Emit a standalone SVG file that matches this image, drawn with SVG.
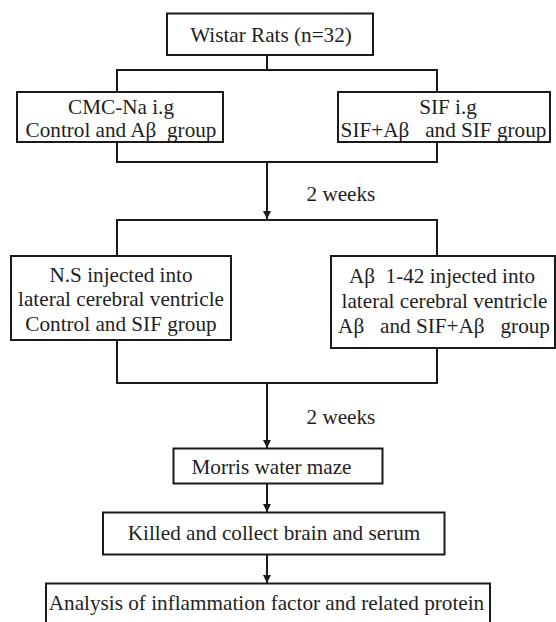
<svg xmlns="http://www.w3.org/2000/svg" width="556" height="622" viewBox="0 0 556 622">
<style>
.box{fill:#fff;stroke:#1a1a1a;stroke-width:2}
.t{font-family:'Liberation Serif','Times New Roman',serif;font-size:21.2px;fill:#1e1e1e;text-anchor:middle}
.s{text-anchor:start}
.c{fill:none;stroke:#1a1a1a;stroke-width:2}
</style>
<defs>
<marker id="ah" markerUnits="userSpaceOnUse" markerWidth="8" markerHeight="9" refX="8" refY="4" orient="auto">
<path d="M0,0 L8,4 L0,8 z" fill="#1a1a1a"/>
</marker>
</defs>
<rect width="556" height="622" fill="#fff"/>
<g id="connectors">
<path class="c" d="M267,55 V70"/>
<path class="c" d="M117,92 V70 H437 V92"/>
<path class="c" d="M117,142 V162 H437 V142"/>
<path class="c" d="M267,162 V219" marker-end="url(#ah)"/>
<path class="c" d="M117,256 V220 H437 V256"/>
<path class="c" d="M117,340 V383 H437 V348"/>
<path class="c" d="M267,383 V448" marker-end="url(#ah)"/>
<path class="c" d="M267,483 V512" marker-end="url(#ah)"/>
<path class="c" d="M267,554 V583" marker-end="url(#ah)"/>
</g>
<g id="label-2weeks-1"><text class="t s" x="306.5" y="201">2 weeks</text></g>
<g id="label-2weeks-2"><text class="t s" x="306.5" y="424">2 weeks</text></g>
<g id="wistar">
<rect class="box" x="167" y="13.5" width="206" height="41.5"/>
<text class="t" x="271" y="41.5">Wistar Rats (n=32)</text>
</g>
<g id="cmc">
<rect class="box" x="17" y="92" width="206" height="50"/>
<text class="t" x="121" y="114">CMC-Na i.g</text>
<text class="t" x="121" y="136.5" xml:space="preserve">Control and Aβ  group</text>
</g>
<g id="sif">
<rect class="box" x="338" y="92" width="212" height="50"/>
<text class="t" x="448" y="114">SIF i.g</text>
<text class="t" x="443.5" y="136.5" xml:space="preserve">SIF+Aβ   and SIF group</text>
</g>
<g id="ns">
<rect class="box" x="11" y="256" width="220" height="84"/>
<text class="t" x="121" y="281.5">N.S injected into</text>
<text class="t" x="121" y="306">lateral cerebral ventricle</text>
<text class="t" x="121" y="330.5">Control and SIF group</text>
</g>
<g id="abeta">
<rect class="box" x="331" y="256" width="224" height="92"/>
<text class="t" x="442" y="283" xml:space="preserve">Aβ  1-42 injected into</text>
<text class="t" x="444.5" y="307.5">lateral cerebral ventricle</text>
<text class="t" x="444" y="333" xml:space="preserve">Aβ   and SIF+Aβ   group</text>
</g>
<g id="morris">
<rect class="box" x="173.5" y="448.5" width="209" height="35"/>
<text class="t" x="271.5" y="474">Morris water maze</text>
</g>
<g id="killed">
<rect class="box" x="103" y="512.5" width="341.5" height="42"/>
<text class="t" x="274" y="539.5">Killed and collect brain and serum</text>
</g>
<g id="analysis">
<rect class="box" x="46" y="583.5" width="444" height="44"/>
<text class="t" x="266.5" y="609.5">Analysis of inflammation factor and related protein</text>
</g>
</svg>
